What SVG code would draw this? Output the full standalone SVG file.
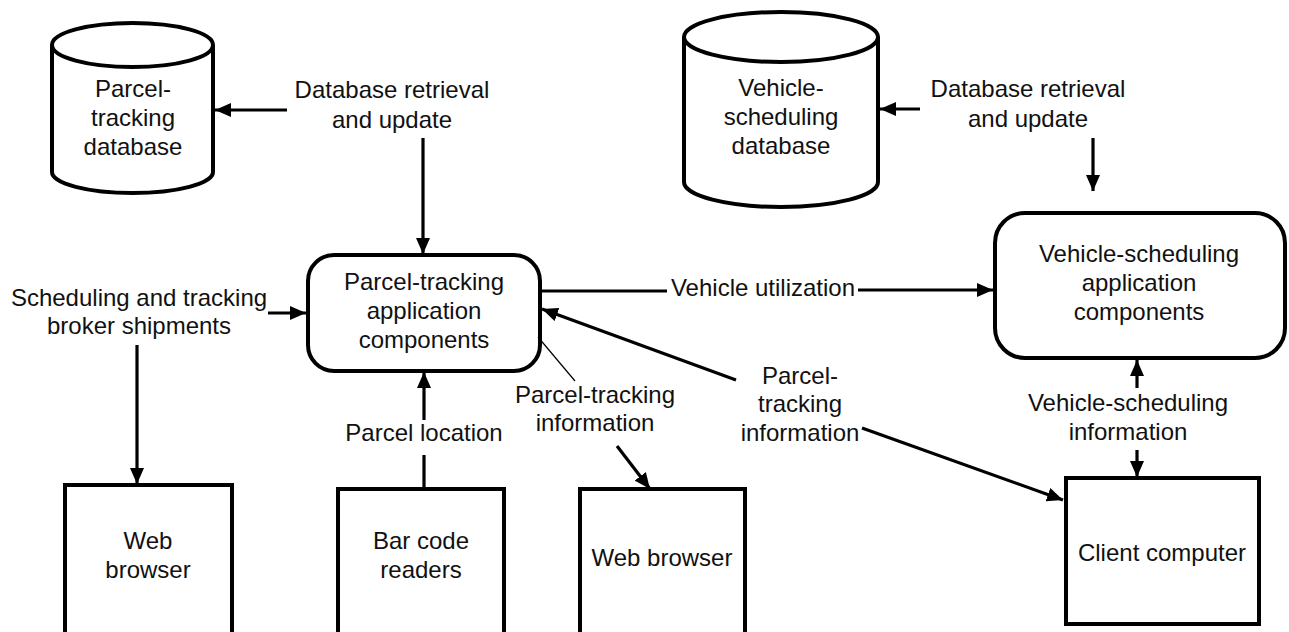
<svg xmlns="http://www.w3.org/2000/svg" width="1289" height="632" viewBox="0 0 1289 632">
<style>
.shape{fill:#fff;stroke:#000;stroke-width:4}
.line{fill:none;stroke:#000;stroke-width:3.2}
.thin{fill:none;stroke:#000;stroke-width:1.2}
text{font-family:"Liberation Sans",Arial,sans-serif;font-size:24px;fill:#111;text-anchor:middle}
</style>
<defs>
<marker id="arr" viewBox="0 0 16 14" markerWidth="16" markerHeight="14" refX="16" refY="7" orient="auto" markerUnits="userSpaceOnUse">
<path d="M0,0 L16,7 L0,14 z" fill="#000"/>
</marker>
</defs>
<rect width="1289" height="632" fill="#fff"/>
<g id="parcel-db">
<path class="shape" d="M52,45 L52,172 A80.5,21 0 0 0 213,172 L213,45"/>
<ellipse class="shape" cx="132.5" cy="45" rx="80.5" ry="22"/>
<text x="133" y="97">Parcel-</text>
<text x="133" y="126">tracking</text>
<text x="133" y="155">database</text>
</g>
<g id="vehicle-db">
<path class="shape" d="M684,37 L684,182 A97,25 0 0 0 878,182 L878,37"/>
<ellipse class="shape" cx="781" cy="37" rx="97" ry="25"/>
<text x="781" y="96">Vehicle-</text>
<text x="781" y="125">scheduling</text>
<text x="781" y="154">database</text>
</g>
<g id="parcel-app">
<rect class="shape" x="308" y="255" width="232" height="116" rx="26"/>
<text x="424" y="290">Parcel-tracking</text>
<text x="424" y="319">application</text>
<text x="424" y="348">components</text>
</g>
<g id="vehicle-app">
<rect class="shape" x="995" y="213" width="290" height="145" rx="30"/>
<text x="1139" y="262">Vehicle-scheduling</text>
<text x="1139" y="291">application</text>
<text x="1139" y="320">components</text>
</g>
<g id="web-browser-1">
<rect class="shape" x="65" y="485" width="167" height="160"/>
<text x="148" y="549">Web</text>
<text x="148" y="578">browser</text>
</g>
<g id="bar-code-readers">
<rect class="shape" x="338" y="489" width="166" height="160"/>
<text x="421" y="549">Bar code</text>
<text x="421" y="578">readers</text>
</g>
<g id="web-browser-2">
<rect class="shape" x="580" y="489" width="165" height="160"/>
<text x="662" y="566">Web browser</text>
</g>
<g id="client-computer">
<rect class="shape" x="1066" y="478" width="193" height="146"/>
<text x="1162" y="561">Client computer</text>
</g>
<g id="connectors">
<line class="line" x1="287" y1="110" x2="215" y2="110" marker-end="url(#arr)"/>
<line class="line" x1="423" y1="138" x2="423" y2="254" marker-end="url(#arr)"/>
<line class="line" x1="920" y1="109" x2="880" y2="109" marker-end="url(#arr)"/>
<line class="line" x1="1093" y1="138" x2="1093" y2="191" marker-end="url(#arr)"/>
<line class="line" x1="268" y1="313" x2="306" y2="313" marker-end="url(#arr)"/>
<line class="line" x1="137" y1="345" x2="137" y2="484" marker-end="url(#arr)"/>
<line class="line" x1="424" y1="489" x2="424" y2="455"/>
<line class="line" x1="424" y1="420" x2="424" y2="372" marker-end="url(#arr)"/>
<line class="thin" x1="538" y1="337" x2="575" y2="381"/>
<line class="line" x1="617" y1="446" x2="650" y2="489" marker-end="url(#arr)"/>
<line class="line" x1="540" y1="291" x2="667" y2="291"/>
<line class="line" x1="858" y1="290" x2="993" y2="290" marker-end="url(#arr)"/>
<line class="line" x1="736" y1="380" x2="542" y2="309" marker-end="url(#arr)"/>
<line class="line" x1="862" y1="428" x2="1063" y2="500" marker-end="url(#arr)"/>
<line class="line" x1="1137" y1="388" x2="1137" y2="360" marker-end="url(#arr)"/>
<line class="line" x1="1137" y1="450" x2="1137" y2="477" marker-end="url(#arr)"/>
</g>
<g id="labels">
<text x="392" y="98">Database retrieval</text>
<text x="392" y="128">and update</text>
<text x="1028" y="97">Database retrieval</text>
<text x="1028" y="127">and update</text>
<text x="139" y="306">Scheduling and tracking</text>
<text x="139" y="334">broker shipments</text>
<text x="763" y="296">Vehicle utilization</text>
<text x="424" y="441">Parcel location</text>
<text x="595" y="403">Parcel-tracking</text>
<text x="595" y="431">information</text>
<text x="800" y="384">Parcel-</text>
<text x="800" y="412">tracking</text>
<text x="800" y="441">information</text>
<text x="1128" y="411">Vehicle-scheduling</text>
<text x="1128" y="440">information</text>
</g>
</svg>
